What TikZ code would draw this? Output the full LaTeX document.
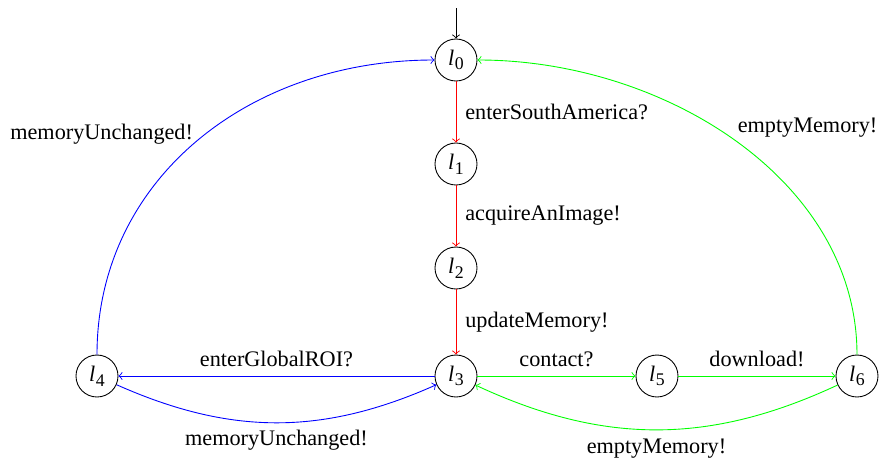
\documentclass[tikz,border=0pt]{standalone}
\usepackage{fontspec}
\setmainfont{Liberation Serif}
\newcommand{\loc}[1]{\textit{l}\kern0.3pt\raisebox{-0.45ex}{\footnotesize #1}}
\begin{document}
\begin{tikzpicture}[x=0.45pt,y=-0.45pt,
  state/.style={circle,draw,minimum size=18.9pt,inner sep=0pt,font=\normalsize},
  lab/.style={inner sep=4pt,font=\normalsize,text=black},
  >=to]
\useasboundingbox (0,0) rectangle (881,458);
\node[state] (l0) at (456,60) {\loc{0}};
\node[state] (l1) at (456,164) {\loc{1}};
\node[state] (l2) at (456,268) {\loc{2}};
\node[state] (l3) at (456,376) {\loc{3}};
\node[state] (l4) at (97,376) {\loc{4}};
\node[state] (l5) at (657,376) {\loc{5}};
\node[state] (l6) at (857,376) {\loc{6}};
\coordinate (init) at (456,8);
\draw[->] (init) -- (l0);
\draw[red,->] (l0) -- node[lab,right]{enterSouthAmerica?} (l1);
\draw[red,->] (l1) -- node[lab,right]{acquireAnImage!} (l2);
\draw[red,->] (l2) -- node[lab,right]{updateMemory!} (l3);
\draw[blue,->] (l3) -- node[lab,above]{enterGlobalROI?} (l4);
\draw[blue,->] (l4) to[bend right=24] node[lab,below,yshift=1pt]{memoryUnchanged!} (l3);
\draw[blue,->] (l4.north) .. controls +(0,-174) and +(-187,0) .. node[lab,above left,pos=0.5,xshift=3pt,yshift=-5pt]{memoryUnchanged!} (l0.west);
\draw[green,->] (l3) -- node[lab,above]{contact?} (l5);
\draw[green,->] (l5) -- node[lab,above]{download!} (l6);
\draw[green,->] (l6) to[bend left=25] node[lab,below,yshift=0pt]{emptyMemory!} (l3);
\draw[green,->] (l6.north) .. controls +(0,-174) and +(187,0) .. node[lab,above right,pos=0.5,xshift=-4pt,yshift=-2pt]{emptyMemory!} (l0.east);
\end{tikzpicture}
\end{document}
